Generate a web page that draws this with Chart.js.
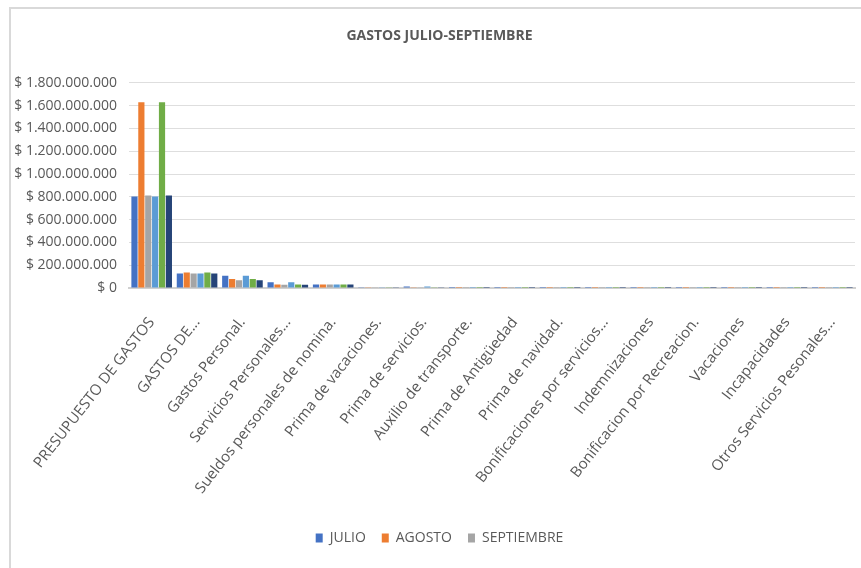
<!DOCTYPE html>
<html>
<head>
<meta charset="utf-8">
<script src="https://cdn.jsdelivr.net/npm/chart.js@4"></script>
<style>
  html, body { margin: 0; padding: 0; background: #fff; overflow: hidden; }
  #wrap { position: relative; width: 861px; height: 568px; overflow: hidden; }
  #frame { position: absolute; left: 9px; top: 7px; width: 900px; height: 600px; border: 2px solid #d9d9d9; box-sizing: border-box; pointer-events: none; }
  canvas { position: absolute; left: 0; top: 0; }
</style>
</head>
<body>
<div id="wrap">
  <canvas id="c" width="875" height="568"></canvas>
  <div id="frame"></div>
</div>
<script>
const categories = [
  "PRESUPUESTO DE GASTOS", "GASTOS DE...", "Gastos Personal.", "Servicios Personales...",
  "Sueldos personales de nomina.", "Prima de vacaciones.", "Prima de servicios.",
  "Auxilio de transporte.", "Prima de Antigüedad", "Prima de navidad.",
  "Bonificaciones por servicios...", "Indemnizaciones", "Bonificacion por Recreacion.",
  "Vacaciones", "Incapacidades", "Otros Servicios Pesonales..."
];
const seriesNames = ["JULIO", "AGOSTO", "SEPTIEMBRE", "", "", ""];
const julio       = [803000000, 128000000, 108000000, 50000000, 30000000, 1500000, 14000000, 1000000, 500000, 800000, 300000, 400000, 200000, 300000, 300000, 500000];
const agosto      = [1630000000, 137000000, 79000000, 30000000, 30000000, 1200000, 1500000, 1000000, 500000, 700000, 300000, 300000, 200000, 300000, 300000, 400000];
const septiembre  = [812000000, 128000000, 67000000, 29000000, 30000000, 1200000, 1500000, 1000000, 500000, 700000, 300000, 300000, 200000, 300000, 300000, 400000];
const julio2      = [803000000, 128000000, 108000000, 50000000, 30000000, 1500000, 14000000, 1000000, 500000, 800000, 300000, 400000, 200000, 300000, 300000, 500000];
const agosto2     = [1630000000, 137000000, 79000000, 30000000, 30000000, 1200000, 1500000, 1000000, 500000, 700000, 300000, 300000, 200000, 300000, 300000, 400000];
const septiembre2 = [812000000, 128000000, 67000000, 29000000, 30000000, 1200000, 1500000, 1000000, 500000, 700000, 300000, 300000, 200000, 300000, 300000, 400000];
const yTickMax = 1800000000;
const yTickStep = 200000000;

const colors = ["#4472C4", "#ED7D31", "#A5A5A5", "#5B9BD5", "#70AD47", "#264478"];
const seriesData = [julio, agosto, septiembre, julio2, agosto2, septiembre2];

function fmtPeso(v) {
  const s = Math.round(v).toString().replace(/\B(?=(\d{3})+(?!\d))/g, ".");
  return "$ " + s;
}

const FONT = "'Open Sans', sans-serif";
const GRAY = "#595959";

new Chart(document.getElementById("c"), {
  type: "bar",
  data: {
    labels: categories,
    datasets: seriesData.map((d, i) => ({
      label: seriesNames[i],
      data: d,
      backgroundColor: colors[i],
      borderWidth: 0,
      yAxisID: "y",
      categoryPercentage: 0.91,
      barPercentage: 0.9
    }))
  },
  options: {
    responsive: false,
    animation: false,
    devicePixelRatio: 1,
    layout: { padding: { left: 10, right: 6, top: 0, bottom: 13 } },
    plugins: {
      title: {
        display: true,
        text: "GASTOS JULIO-SEPTIEMBRE",
        color: GRAY,
        font: { family: FONT, size: 14, weight: "bold" },
        padding: { top: 28, bottom: 38 }
      },
      legend: {
        position: "bottom",
        labels: {
          filter: item => item.datasetIndex < 3,
          color: GRAY,
          boxWidth: 7,
          boxHeight: 9,
          padding: 16,
          font: { family: FONT, size: 14 }
        }
      },
      tooltip: { enabled: false }
    },
    scales: {
      x: {
        grid: { display: false },
        border: { display: true, color: "#d0d0d0", width: 2 },
        ticks: {
          color: GRAY,
          font: { family: FONT, size: 15 },
          minRotation: 52,
          maxRotation: 52,
          autoSkip: false,
          padding: 18
        },
        afterFit: s => { s.height = 227; }
      },
      y: {
        min: 0,
        max: yTickMax,
        grid: { color: "#dedede", lineWidth: 1, drawTicks: false },
        border: { display: false },
        ticks: {
          stepSize: yTickStep,
          color: GRAY,
          font: { family: FONT, size: 14 },
          padding: 12,
          callback: v => fmtPeso(v)
        },
        afterFit: s => { s.width = 119; }
      },
      yRight: {
        position: "right",
        display: true,
        grid: { display: false, drawTicks: false },
        border: { display: false },
        ticks: { display: false },
        afterFit: s => { s.width = 14; }
      }
    }
  }
});
</script>
</body>
</html>
